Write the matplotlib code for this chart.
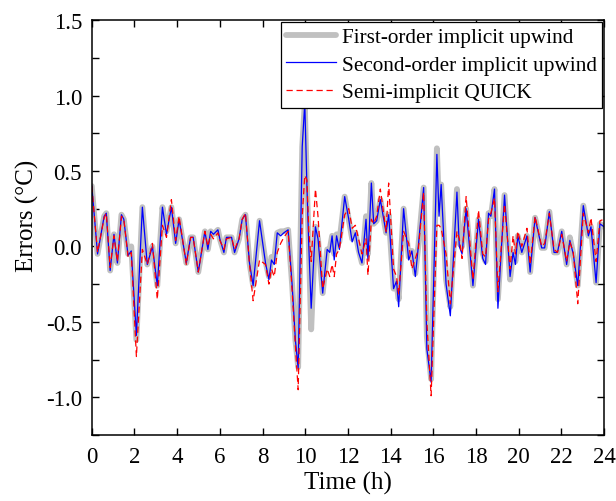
import matplotlib
matplotlib.use("Agg")
import matplotlib.pyplot as plt
from matplotlib.ticker import MultipleLocator, FormatStrFormatter

plt.rcParams['font.family'] = ['Liberation Serif', 'DejaVu Serif']

# Time (h) of each sample and temperature errors (°C) of the three schemes
hours = [0.00, 0.27, 0.58, 0.68, 0.86, 1.04, 1.20, 1.39, 1.50, 1.70, 1.85, 2.09, 2.37, 2.60,
         2.84, 3.07, 3.31, 3.50, 3.73, 3.93, 4.09, 4.43, 4.63, 4.75, 4.99, 5.30, 5.44, 5.57,
         5.70, 5.91, 6.00, 6.19, 6.31, 6.55, 6.69, 6.90, 7.05, 7.20, 7.39, 7.56, 7.86, 8.14,
         8.30, 8.42, 8.55, 8.69, 8.85, 9.00, 9.20, 9.39, 9.54, 9.67, 9.86, 9.98, 10.08, 10.17,
         10.28, 10.48, 10.60, 10.82, 11.03, 11.15, 11.26, 11.36, 11.47, 11.60, 11.85, 12.04,
         12.20, 12.35, 12.50, 12.66, 12.85, 12.94, 13.10, 13.21, 13.35, 13.52, 13.79, 13.91,
         14.14, 14.28, 14.38, 14.61, 14.85, 15.00, 15.16, 15.30, 15.55, 15.70, 15.90, 16.17,
         16.27, 16.37, 16.60, 16.80, 17.11, 17.22, 17.35, 17.54, 17.86, 18.12, 18.32, 18.45,
         18.59, 18.70, 18.87, 19.03, 19.34, 19.60, 19.74, 19.85, 19.96, 20.15, 20.39, 20.54,
         20.77, 21.08, 21.22, 21.44, 21.66, 21.82, 22.02, 22.25, 22.40, 22.56, 22.77, 23.03,
         23.27, 23.39, 23.63, 23.81, 24.00]

first_order = [0.40, -0.05, 0.20, 0.22, -0.16, 0.08, -0.11, 0.21, 0.18, -0.05, 0.00, -0.62, 0.26, -0.12,
               0.00, -0.26, 0.26, 0.10, 0.26, 0.02, 0.18, -0.11, 0.06, 0.06, -0.17, 0.10, -0.02, 0.10,
               0.08, 0.11, 0.05, -0.04, 0.06, 0.06, -0.04, 0.05, 0.18, 0.21, -0.11, -0.26, 0.17, -0.10,
               -0.20, -0.07, -0.08, 0.09, 0.10, 0.10, 0.11, -0.26, -0.62, -0.80, 0.66, 0.95, 0.40, 0.00,
               -0.55, 0.13, 0.05, -0.31, -0.02, -0.02, 0.07, -0.05, 0.08, 0.03, 0.33, 0.18,
               0.05, 0.09, -0.02, -0.11, 0.20, -0.05, 0.42, 0.15, 0.17, 0.31, 0.09, 0.21,
               -0.28, -0.25, -0.35, 0.25, -0.07, -0.03, -0.18, 0.00, 0.39, -0.60, -0.88, 0.65,
               0.25, 0.41, -0.22, -0.40, 0.38, 0.02, 0.00, 0.25, -0.26, 0.18, -0.05, -0.10,
               0.22, 0.20, 0.38, -0.35, 0.34, -0.22, -0.04, -0.10, 0.07, -0.04, 0.07, -0.17,
               0.19, -0.01, -0.01, 0.23, -0.04, -0.04, 0.10, -0.12, 0.06, -0.05, -0.26, 0.27,
               0.07, 0.13, -0.24, 0.15, 0.13]

second_order = [0.40, -0.05, 0.20, 0.22, -0.16, 0.08, -0.11, 0.21, 0.18, -0.06, -0.03, -0.59, 0.26, -0.12,
                0.00, -0.26, 0.26, 0.08, 0.26, 0.02, 0.18, -0.11, 0.06, 0.06, -0.17, 0.10, -0.02, 0.10,
                0.08, 0.11, 0.05, -0.04, 0.06, 0.06, -0.04, 0.05, 0.18, 0.21, -0.11, -0.26, 0.17, -0.11,
                -0.22, -0.09, -0.12, 0.09, 0.07, 0.09, 0.11, -0.26, -0.62, -0.81, 0.66, 0.95, 0.40, 0.00,
                -0.41, 0.13, 0.05, -0.31, -0.02, -0.04, 0.07, -0.09, 0.07, -0.02, 0.33, 0.18,
                0.03, 0.09, -0.04, -0.11, 0.18, -0.09, 0.42, 0.15, 0.17, 0.31, 0.09, 0.21,
                -0.28, -0.23, -0.40, 0.25, -0.09, -0.03, -0.20, 0.00, 0.39, -0.68, -0.90, 0.61,
                0.20, 0.41, -0.25, -0.46, 0.36, 0.00, -0.05, 0.25, -0.26, 0.18, -0.08, -0.12,
                0.22, 0.20, 0.38, -0.41, 0.34, -0.20, -0.04, -0.12, 0.07, -0.04, 0.07, -0.17,
                0.19, -0.01, -0.01, 0.23, -0.04, -0.04, 0.10, -0.12, 0.04, -0.05, -0.26, 0.27,
                0.07, 0.13, -0.24, 0.15, 0.13]

quick = [0.40, -0.04, 0.19, 0.22, -0.14, 0.07, -0.10, 0.20, 0.18, -0.07, -0.04, -0.73, -0.02, -0.12,
         0.02, -0.35, 0.14, 0.06, 0.31, 0.04, 0.20, -0.12, 0.06, 0.06, -0.17, 0.10, 0.00, 0.08,
         0.05, 0.09, 0.04, -0.02, 0.05, 0.06, -0.02, 0.05, 0.18, 0.22, -0.12, -0.36, -0.09, -0.12,
         -0.25, -0.15, -0.20, -0.04, 0.02, 0.06, 0.10, -0.30, -0.66, -0.95, 0.20, 0.47, 0.44, 0.10,
         -0.10, 0.38, 0.20, -0.28, -0.15, -0.20, -0.12, -0.20, -0.05, -0.02, 0.21, 0.25,
         0.12, 0.14, 0.05, -0.05, 0.05, -0.19, 0.18, 0.15, 0.20, 0.38, 0.10, 0.42,
         -0.15, -0.20, -0.32, 0.10, 0.02, -0.15, -0.08, -0.02, 0.36, -0.50, -0.99, 0.14,
         0.14, 0.12, -0.05, -0.38, 0.10, 0.05, -0.08, 0.33, -0.22, 0.24, -0.05, -0.07,
         0.18, 0.22, 0.32, -0.30, 0.28, -0.15, 0.07, -0.05, 0.10, 0.00, 0.12, -0.12,
         0.20, 0.00, 0.02, 0.22, -0.02, -0.04, 0.08, -0.10, 0.03, -0.04, -0.38, 0.22,
         0.09, 0.19, -0.10, 0.17, 0.18]

series_labels = ["First-order implicit upwind", "Second-order implicit upwind", "Semi-implicit QUICK"]

fig = plt.figure(figsize=(6.16, 5.02), dpi=100)
ax = fig.add_axes([0.149, 0.1315, 0.8315, 0.8265])

ax.plot(hours, first_order, color="#c0c0c0", lw=4.2, solid_joinstyle="round",
        solid_capstyle="round", label=series_labels[0])
ax.plot(hours, second_order, color="#0000ff", lw=0.9, label=series_labels[1])
ax.plot(hours, quick, color="#ff0000", lw=0.9, ls=(0, (5, 3)), label=series_labels[2])

ax.set_xlim(0, 24)
ax.set_ylim(-1.25, 1.5)
ax.xaxis.set_major_locator(MultipleLocator(2))
ax.yaxis.set_major_locator(MultipleLocator(0.5))
ax.yaxis.set_minor_locator(MultipleLocator(0.25))
ax.yaxis.set_major_formatter(FormatStrFormatter('%.1f'))
ax.tick_params(which="both", direction="in", top=True, right=True, length=5, width=1,
               labelsize=16.5)
ax.tick_params(axis="x", pad=8)
ax.tick_params(axis="y", pad=7)
for sp in ax.spines.values():
    sp.set_linewidth(1.1)

ax.set_xlabel("Time (h)", fontsize=18, labelpad=3)
ax.set_ylabel("Errors (°C)", fontsize=18)
ax.yaxis.set_label_coords(-0.104, 0.53)

leg = ax.legend(loc="upper right", fontsize=15.3, frameon=True, fancybox=False,
                edgecolor="black", framealpha=1, borderaxespad=0.1, handlelength=2.35,
                handletextpad=0.25, labelspacing=0.36, borderpad=0.25)
leg.get_frame().set_linewidth(0.9)

fig.savefig("out.png", dpi=100)
